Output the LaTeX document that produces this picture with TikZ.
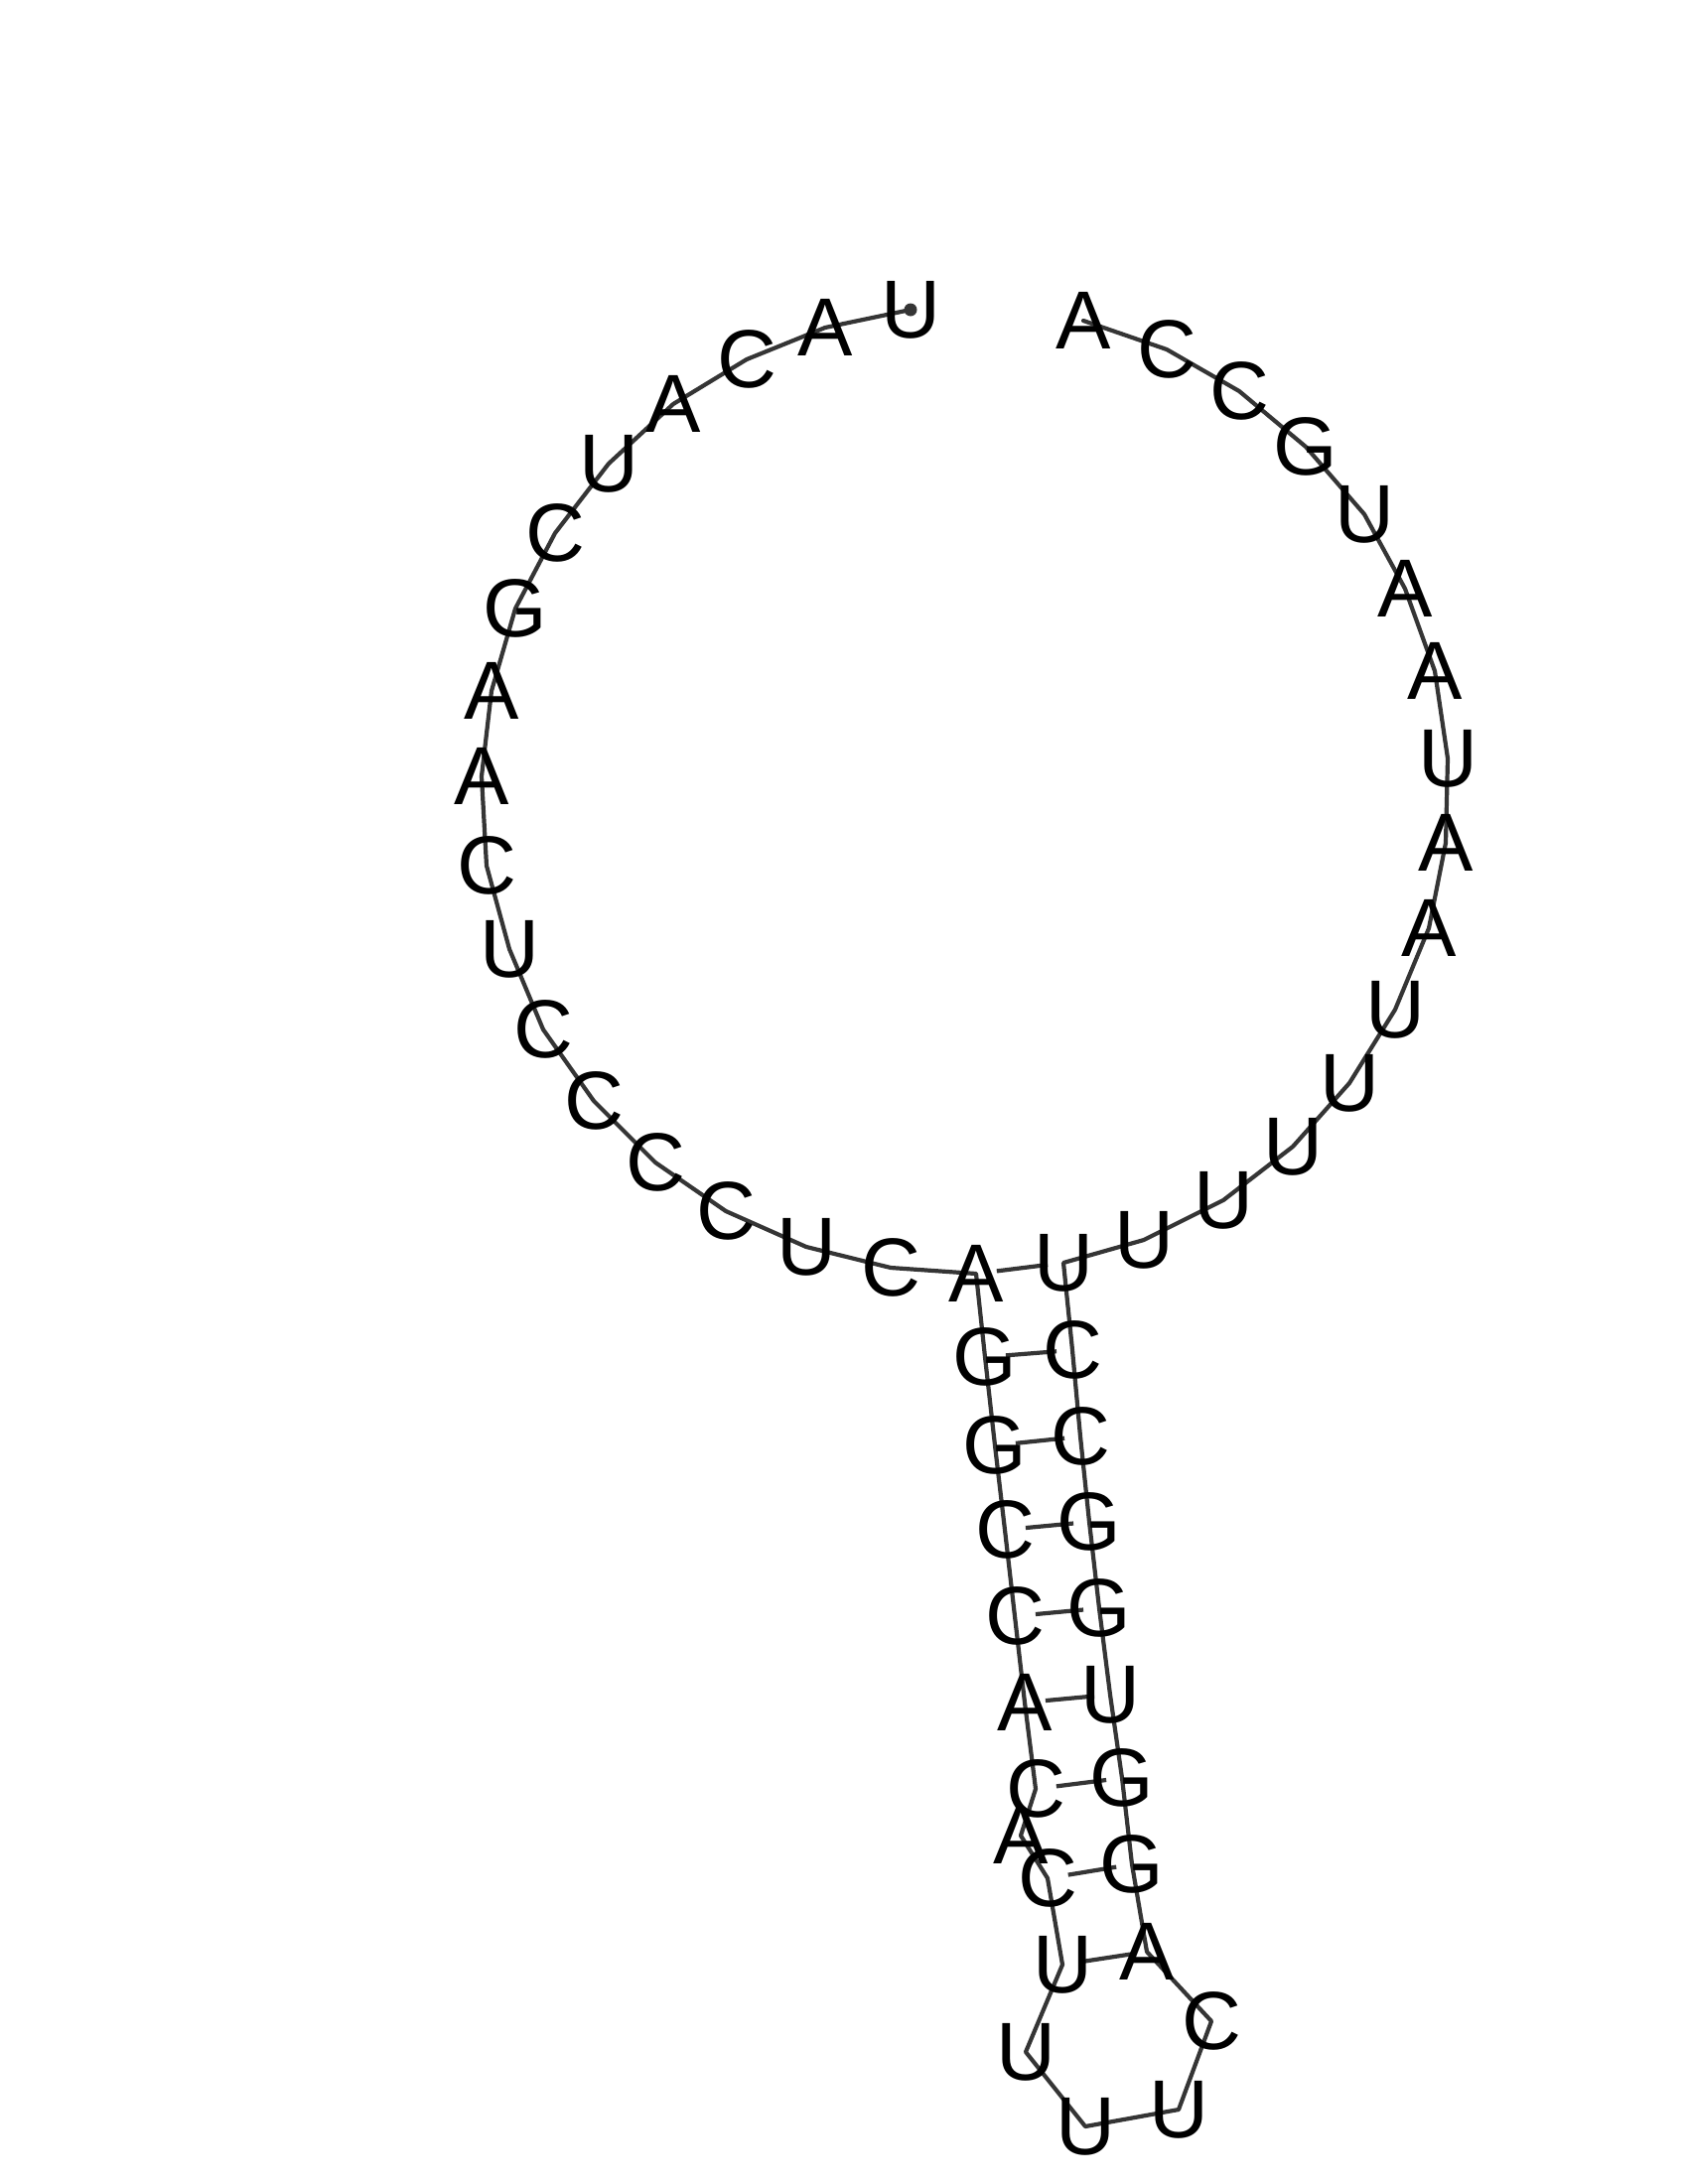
\documentclass[tikz,border=0pt]{standalone}
\usepackage{fontspec}
\setmainfont{Liberation Sans}
\usetikzlibrary{backgrounds}
\definecolor{bbgray}{HTML}{353535}
\begin{document}
\begin{tikzpicture}[x=1pt,y=-1pt,
  nt/.style={inner sep=0pt, font=\fontsize{83}{83}\selectfont, text=black},
  bb/.style={draw=bbgray, line width=4.2pt, line join=round, line cap=round},
  bp/.style={draw=bbgray, line width=4.2pt, shorten <=21pt, shorten >=16pt}]
\useasboundingbox (0,0) rectangle (1700,2200);
\node[nt] (n1) at (917,312) {U};
\node[nt] (n2) at (831,330) {A};
\node[nt] (n3) at (752,362) {C};
\node[nt] (n4) at (678,407) {A};
\node[nt] (n5) at (613,467) {U};
\node[nt] (n6) at (559,537) {C};
\node[nt] (n7) at (519,613) {G};
\node[nt] (n8) at (495,696) {A};
\node[nt] (n9) at (485,782) {A};
\node[nt] (n10) at (490,872) {C};
\node[nt] (n11) at (513,956) {U};
\node[nt] (n12) at (547,1037) {C};
\node[nt] (n13) at (598,1109) {C};
\node[nt] (n14) at (660,1171) {C};
\node[nt] (n15) at (731,1220) {C};
\node[nt] (n16) at (812,1256) {U};
\node[nt] (n17) at (897,1277) {C};
\node[nt] (n18) at (983,1283) {A};
\node[nt] (n19) at (992,1367) {G};
\node[nt] (n20) at (1002,1456) {G};
\node[nt] (n21) at (1012,1541) {C};
\node[nt] (n22) at (1022,1628) {C};
\node[nt] (n23) at (1032,1715) {A};
\node[nt] (n24) at (1043,1802) {C};
\node[nt] (n25) at (1028,1849) {A};
\node[nt] (n26) at (1055,1892) {C};
\node[nt] (n27) at (1070,1979) {U};
\node[nt] (n28) at (1033,2067) {U};
\node[nt] (n29) at (1093,2142) {U};
\node[nt] (n30) at (1187,2125) {U};
\node[nt] (n31) at (1220,2036) {C};
\node[nt] (n32) at (1155,1966) {A};
\node[nt] (n33) at (1140,1878) {G};
\node[nt] (n34) at (1130,1791) {G};
\node[nt] (n35) at (1118,1707) {U};
\node[nt] (n36) at (1107,1620) {G};
\node[nt] (n37) at (1097,1533) {G};
\node[nt] (n38) at (1088,1447) {C};
\node[nt] (n39) at (1080,1360) {C};
\node[nt] (n40) at (1071,1272) {U};
\node[nt] (n41) at (1152,1249) {U};
\node[nt] (n42) at (1232,1209) {U};
\node[nt] (n43) at (1302,1155) {U};
\node[nt] (n44) at (1359,1091) {U};
\node[nt] (n45) at (1405,1017) {U};
\node[nt] (n46) at (1439,935) {A};
\node[nt] (n47) at (1456,849) {A};
\node[nt] (n48) at (1458,764) {U};
\node[nt] (n49) at (1445,676) {A};
\node[nt] (n50) at (1415,593) {A};
\node[nt] (n51) at (1374,518) {U};
\node[nt] (n52) at (1315,450) {G};
\node[nt] (n53) at (1248,394) {C};
\node[nt] (n54) at (1175,352) {C};
\node[nt] (n55) at (1091,323) {A};
\begin{scope}[on background layer]
\draw[bb] (n1.center) \foreach \i in {2,...,55} { -- (n\i.center) };
\foreach \a/\b in {18/40,19/39,20/38,21/37,22/36,23/35,24/34,26/33,27/32}
  \draw[bp] (n\a.center) -- (n\b.center);
\fill[bbgray] (n1.center) circle[radius=6.5pt];
\end{scope}
\end{tikzpicture}
\end{document}
